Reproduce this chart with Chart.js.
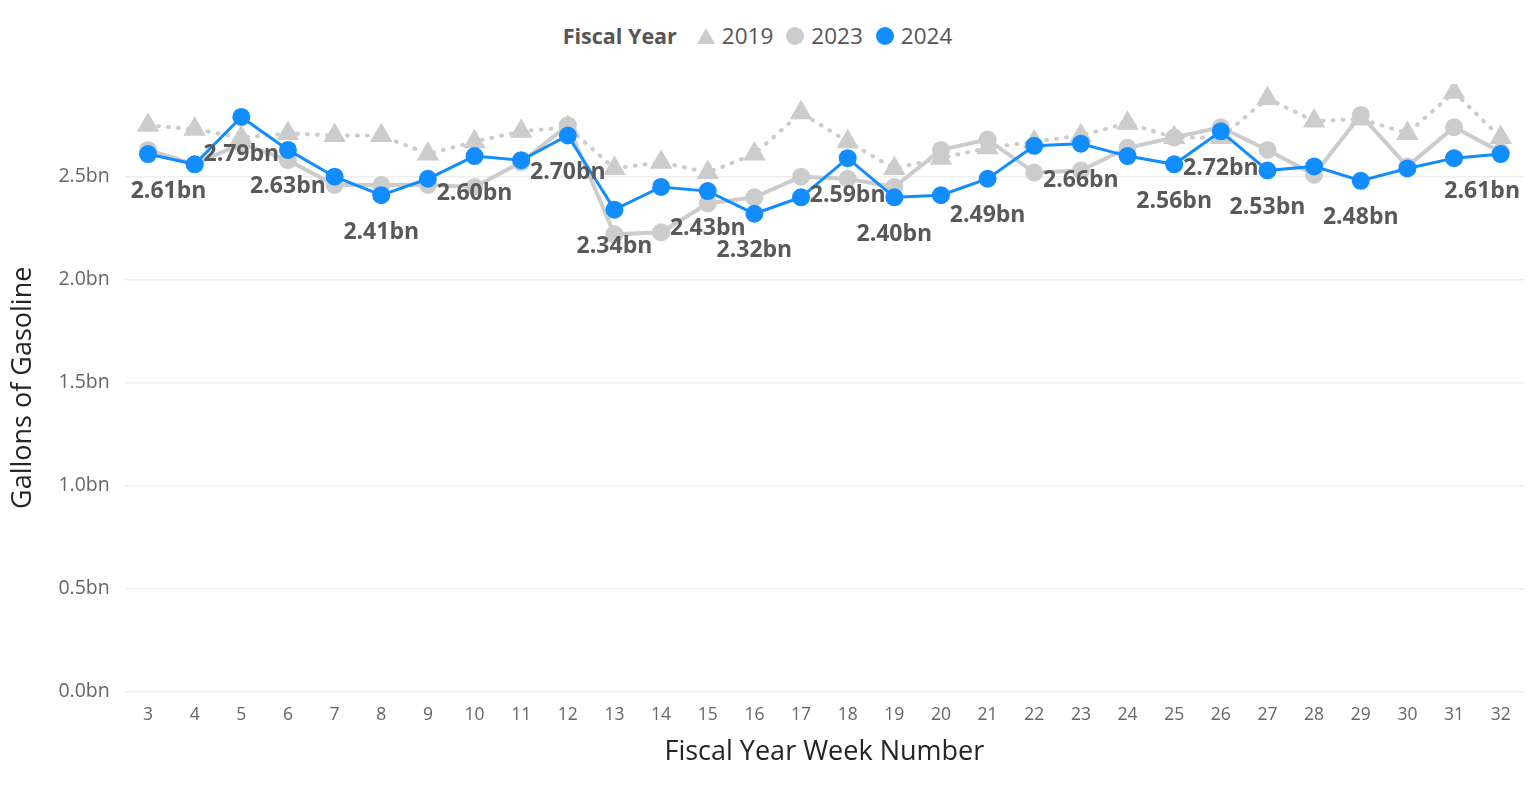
<!DOCTYPE html>
<html>
<head>
<meta charset="utf-8">
<script src="https://cdn.jsdelivr.net/npm/chart.js@4/dist/chart.umd.min.js"></script>
<style>
  html, body { margin: 0; padding: 0; background: #fff; }
  body { width: 1533px; height: 787px; position: relative; overflow: hidden; font-family: 'Open Sans', sans-serif; }
  #legend { position: absolute; top: 20px; left: 0; width: 1533px; display: flex; justify-content: center; align-items: center; font-size: 22.5px; color: #555; padding-right: 18px; box-sizing: border-box; }
  #legend .title { font-weight: bold; margin-right: 19px; font-size: 21.5px; }
  #legend .item { display: flex; align-items: center; margin-right: 12px; }
  #legend .item:last-child { margin-right: 0; }
  #legend .mark { margin-right: 6px; }
  #chart { position: absolute; left: 0; top: 0; }
</style>
</head>
<body>
<div id="legend">
  <span class="title">Fiscal Year</span>
  <span class="item"><svg class="mark" width="20" height="18"><polygon points="10,1 19,17 1,17" fill="#cccccc"/></svg>2019</span>
  <span class="item"><svg class="mark" width="20" height="20"><circle cx="10" cy="10" r="9" fill="#cccccc"/></svg>2023</span>
  <span class="item"><svg class="mark" width="20" height="20"><circle cx="10" cy="10" r="9" fill="#118DFF"/></svg>2024</span>
</div>
<canvas id="chart" width="1533" height="787"></canvas>
<script>
// === Данные ===
const weeks = [3,4,5,6,7,8,9,10,11,12,13,14,15,16,17,18,19,20,21,22,23,24,25,26,27,28,29,30,31,32];
const fy2019 = [2.75,2.73,2.69,2.71,2.70,2.70,2.61,2.67,2.72,2.74,2.54,2.57,2.52,2.61,2.81,2.67,2.54,2.59,2.64,2.67,2.70,2.76,2.69,2.69,2.88,2.77,2.78,2.71,2.91,2.69];
const fy2023 = [2.63,2.56,2.66,2.58,2.46,2.46,2.46,2.45,2.57,2.75,2.22,2.23,2.37,2.40,2.50,2.49,2.45,2.63,2.68,2.52,2.53,2.64,2.69,2.74,2.63,2.51,2.80,2.55,2.74,2.62];
const fy2024 = [2.61,2.56,2.79,2.63,2.50,2.41,2.49,2.60,2.58,2.70,2.34,2.45,2.43,2.32,2.40,2.59,2.40,2.41,2.49,2.65,2.66,2.60,2.56,2.72,2.53,2.55,2.48,2.54,2.59,2.61];
const labeledWeeks = [3,5,6,8,10,12,13,15,16,18,19,21,23,25,26,27,29,32];
const yTicks = [0, 0.5, 1.0, 1.5, 2.0, 2.5];

const FONT = "'Open Sans', sans-serif";

// подписи значений под точками 2024
const valueLabels = {
  id: 'valueLabels',
  afterDatasetsDraw(chart) {
    const ds = chart.data.datasets.findIndex(d => d.label === '2024');
    const meta = chart.getDatasetMeta(ds);
    const ctx = chart.ctx;
    const area = chart.chartArea;
    ctx.save();
    ctx.font = 'bold 23px ' + FONT;
    ctx.fillStyle = '#595959';
    ctx.textAlign = 'center';
    ctx.textBaseline = 'middle';
    weeks.forEach((w, i) => {
      if (!labeledWeeks.includes(w)) return;
      const pt = meta.data[i];
      const text = fy2024[i].toFixed(2) + 'bn';
      const half = ctx.measureText(text).width / 2;
      let x = pt.x;
      x = Math.max(area.left + 6 + half, Math.min(area.right - 4 - half, x));
      ctx.fillText(text, x, pt.y + 37);
    });
    ctx.restore();
  }
};

new Chart(document.getElementById('chart'), {
  type: 'line',
  data: {
    labels: weeks,
    datasets: [
      {
        label: '2024', data: fy2024, order: 0,
        borderColor: '#118DFF', backgroundColor: '#118DFF',
        borderWidth: 3, pointRadius: 7.5, pointHoverRadius: 7.5,
        pointStyle: 'circle', tension: 0
      },
      {
        label: '2023', data: fy2023, order: 1,
        borderColor: '#cccccc', backgroundColor: '#cccccc',
        borderWidth: 4, pointRadius: 7, pointHoverRadius: 7,
        pointStyle: 'circle', tension: 0
      },
      {
        label: '2019', data: fy2019, order: 2,
        borderColor: '#cccccc', backgroundColor: '#cccccc',
        borderWidth: 4, borderDash: [1, 9], borderCapStyle: 'round',
        pointRadius: 9, pointHoverRadius: 9,
        pointStyle: 'triangle', tension: 0
      }
    ]
  },
  options: {
    responsive: false,
    animation: false,
    layout: { autoPadding: false, padding: { top: 84, right: 9, left: 3, bottom: 14 } },
    plugins: {
      legend: { display: false },
      tooltip: { enabled: false }
    },
    scales: {
      x: {
        offset: true,
        grid: { display: false },
        border: { display: false },
        ticks: { color: '#666', font: { family: FONT, size: 17.5 }, padding: 5, maxRotation: 0, autoSkip: false },
        title: { display: true, text: 'Fiscal Year Week Number', color: '#252423', font: { family: FONT, size: 27 }, padding: { top: 6 } }
      },
      y: {
        min: 0, max: 2.95,
        afterBuildTicks(scale) { scale.ticks = yTicks.map(v => ({ value: v })); },
        grid: { color: '#eeeeee', drawTicks: false, lineWidth: 1.5 },
        border: { display: false },
        ticks: { color: '#666', font: { family: FONT, size: 19.5 }, padding: 15, callback: v => v.toFixed(1) + 'bn' },
        title: { display: true, text: 'Gallons of Gasoline', color: '#252423', font: { family: FONT, size: 27 }, padding: { bottom: 4 } }
      }
    }
  },
  plugins: [valueLabels]
});
</script>
</body>
</html>
